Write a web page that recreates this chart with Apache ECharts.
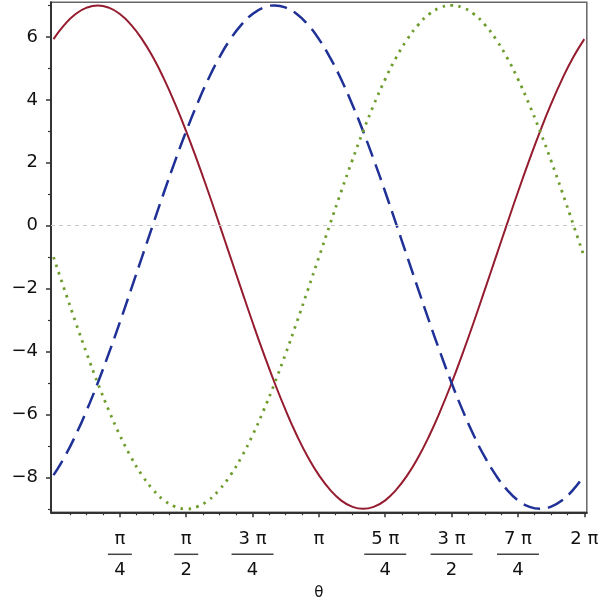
<!DOCTYPE html>
<html>
<head>
<meta charset="utf-8">
<script src="https://cdn.jsdelivr.net/npm/echarts@6/dist/echarts.min.js"></script>
<style>
  html, body { margin: 0; padding: 0; background: #fff; }
  #chart { width: 598px; height: 607px; }
</style>
</head>
<body>
<div id="chart"></div>
<script>
// θ samples in degrees (0 .. 2π)
const thetaDeg = [0, 7.5, 15, 22.5, 30, 37.5, 45, 52.5, 60, 67.5, 75, 82.5, 90, 97.5, 105, 112.5, 120, 127.5, 135, 142.5, 150, 157.5, 165, 172.5, 180, 187.5, 195, 202.5, 210, 217.5, 225, 232.5, 240, 247.5, 255, 262.5, 270, 277.5, 285, 292.5, 300, 307.5, 315, 322.5, 330, 337.5, 345, 352.5, 360]

const redVals = [5.93, 6.39, 6.73, 6.93, 7, 6.93, 6.73, 6.39, 5.93, 5.35, 4.66, 3.87, 3, 2.06, 1.07, 0.04, -1, -2.04, -3.07, -4.06, -5, -5.87, -6.66, -7.35, -7.93, -8.39, -8.73, -8.93, -9, -8.93, -8.73, -8.39, -7.93, -7.35, -6.66, -5.87, -5, -4.06, -3.07, -2.04, -1, 0.04, 1.07, 2.06, 3, 3.87, 4.66, 5.35, 5.93]
const blueVals = [-7.93, -7.35, -6.66, -5.87, -5, -4.06, -3.07, -2.04, -1, 0.04, 1.07, 2.06, 3, 3.87, 4.66, 5.35, 5.93, 6.39, 6.73, 6.93, 7, 6.93, 6.73, 6.39, 5.93, 5.35, 4.66, 3.87, 3, 2.06, 1.07, 0.04, -1, -2.04, -3.07, -4.06, -5, -5.87, -6.66, -7.35, -7.93, -8.39, -8.73, -8.93, -9, -8.93, -8.73, -8.39, -7.93]
const greenVals = [-1, -2.04, -3.07, -4.06, -5, -5.87, -6.66, -7.35, -7.93, -8.39, -8.73, -8.93, -9, -8.93, -8.73, -8.39, -7.93, -7.35, -6.66, -5.87, -5, -4.06, -3.07, -2.04, -1, 0.04, 1.07, 2.06, 3, 3.87, 4.66, 5.35, 5.93, 6.39, 6.73, 6.93, 7, 6.93, 6.73, 6.39, 5.93, 5.35, 4.66, 3.87, 3, 2.06, 1.07, 0.04, -1]

// x tick labels (fractions of π)
const xTickDeg = [45, 90, 135, 180, 225, 270, 315, 360]
const xTickNum = ['π', 'π', '3 π', 'π', '5 π', '3 π', '7 π', '2 π']
const xTickDen = ['4', '2', '4', '', '4', '2', '4', '']
const xMinorDeg = [11.25, 22.5, 33.75, 56.25, 67.5, 78.75, 101.25, 112.5, 123.75, 146.25, 157.5, 168.75, 191.25, 202.5, 213.75, 236.25, 247.5, 258.75, 281.25, 292.5, 303.75, 326.25, 337.5, 348.75]

// y tick labels
const yTicks = [-8, -6, -4, -2, 0, 2, 4, 6]
const yMinor = [-9, -7, -5, -3, -1, 1, 3, 5, 7]

const toPairs = (vals) => vals.map((v, i) => [thetaDeg[i], v])

const textColor = '#111'
const fontFamily = 'DejaVu Sans'

const xMin = -1.7
const xMax = 361.7
const yMin = -9.11
const yMax = 7.1

const chart = echarts.init(document.getElementById('chart'))

const option = {
  animation: false,
  grid: {
    left: 51,
    right: 11.2,
    top: 2.3,
    bottom: 94.7,
    show: true,
    borderColor: '#666',
    borderWidth: 1.5,
    outerBoundsMode: 'none',
    containLabel: false
  },
  xAxis: [
    {
      type: 'value',
      position: 'bottom',
      min: xMin,
      max: xMax,
      name: 'θ',
      nameLocation: 'middle',
      nameGap: 73,
      nameTextStyle: { color: textColor, fontSize: 15, fontFamily: fontFamily },
      splitLine: { show: false },
      axisLine: { show: true, onZero: false, lineStyle: { color: '#333', width: 2 } },
      axisTick: {
        show: true,
        length: 5,
        customValues: xTickDeg,
        lineStyle: { color: '#333', width: 1.5 }
      },
      axisLabel: {
        show: true,
        customValues: xTickDeg,
        margin: 18,
        fontFamily: fontFamily,
        formatter: (v) => {
          const i = xTickDeg.indexOf(v)
          if (i < 0) return ''
          if (xTickDen[i]) {
            const bar = xTickNum[i].length > 1 ? 'barL' : 'barS'
            return '{n|' + xTickNum[i] + '}\n{' + bar + '| }\n{d|' + xTickDen[i] + '}'
          }
          return '{n|' + xTickNum[i] + '}\n{gap| }\n{d| }'
        },
        rich: {
          n: { fontSize: 18, lineHeight: 19, color: textColor, fontFamily: fontFamily, align: 'center' },
          barS: { width: 24, height: 1.5, lineHeight: 10, fontSize: 2, backgroundColor: '#444', align: 'center' },
          barL: { width: 42, height: 1.5, lineHeight: 10, fontSize: 2, backgroundColor: '#444', align: 'center' },
          gap: { lineHeight: 10, fontSize: 2, align: 'center' },
          d: { fontSize: 18, lineHeight: 22, color: textColor, fontFamily: fontFamily, align: 'center' }
        }
      }
    },
    {
      // minor ticks only
      type: 'value',
      position: 'bottom',
      min: xMin,
      max: xMax,
      splitLine: { show: false },
      axisLine: { show: false, onZero: false },
      axisTick: {
        show: true,
        length: 3,
        customValues: xMinorDeg,
        lineStyle: { color: '#333', width: 1.2 }
      },
      axisLabel: { show: false }
    }
  ],
  yAxis: [
    {
      type: 'value',
      position: 'left',
      min: yMin,
      max: yMax,
      splitLine: { show: false },
      axisLine: { show: true, onZero: false, lineStyle: { color: '#333', width: 2 } },
      axisTick: {
        show: true,
        length: 5,
        customValues: yTicks,
        lineStyle: { color: '#333', width: 1.5 }
      },
      axisLabel: {
        show: true,
        customValues: yTicks,
        margin: 13,
        color: textColor,
        fontSize: 18,
        fontFamily: fontFamily,
        formatter: (v) => (v < 0 ? '\u2212' + Math.abs(v) : String(v))
      }
    },
    {
      type: 'value',
      position: 'left',
      min: yMin,
      max: yMax,
      splitLine: { show: false },
      axisLine: { show: false, onZero: false },
      axisTick: {
        show: true,
        length: 3,
        customValues: yMinor,
        lineStyle: { color: '#333', width: 1.2 }
      },
      axisLabel: { show: false }
    }
  ],
  series: [
    {
      name: 'red',
      type: 'line',
      xAxisIndex: 0,
      yAxisIndex: 0,
      data: toPairs(redVals),
      smooth: true,
      showSymbol: false,
      z: 3,
      lineStyle: { color: '#951c2e', width: 2 },
      markLine: {
        silent: true,
        symbol: ['none', 'none'],
        label: { show: false },
        lineStyle: { color: '#c8c8c8', type: [4, 4], width: 1 },
        data: [{ yAxis: 0 }]
      }
    },
    {
      name: 'blue',
      type: 'line',
      xAxisIndex: 0,
      yAxisIndex: 0,
      data: toPairs(blueVals),
      smooth: true,
      showSymbol: false,
      z: 3,
      lineStyle: { color: '#1f3196', width: 2.5, type: [17, 8] }
    },
    {
      name: 'green',
      type: 'line',
      xAxisIndex: 0,
      yAxisIndex: 0,
      data: toPairs(greenVals),
      smooth: true,
      showSymbol: false,
      z: 3,
      lineStyle: { color: '#6e9d2e', width: 2.8, type: [2.5, 5.5] }
    }
  ]
}

chart.setOption(option)
</script>
</body>
</html>
